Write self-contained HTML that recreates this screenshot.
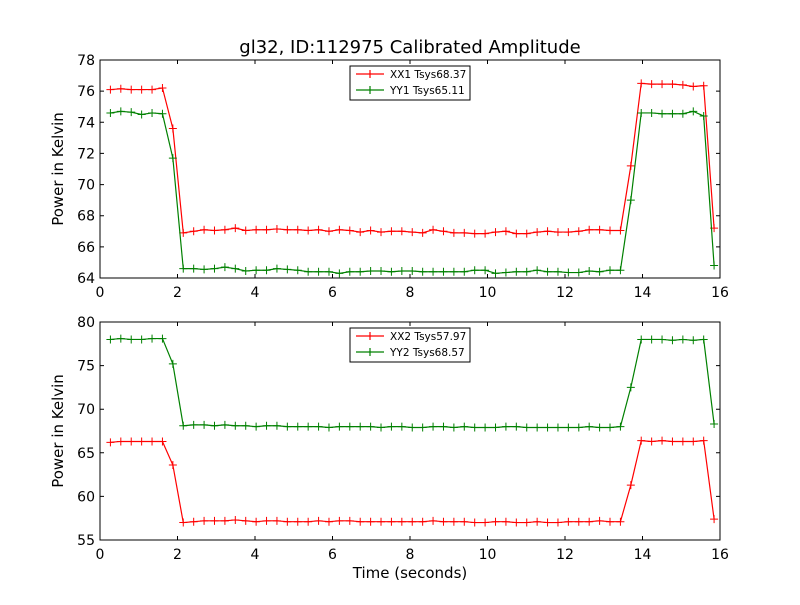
<!DOCTYPE html>
<html><head><meta charset="utf-8"><style>
body{margin:0;background:#fff;font-family:"Liberation Sans","DejaVu Sans",sans-serif}
svg text{font-family:"DejaVu Sans","Liberation Sans",sans-serif}
</style></head><body>
<svg id="c" width="800" height="600" xmlns="http://www.w3.org/2000/svg">
<rect width="800" height="600" fill="#fff"/>
<text x="410" y="53" font-size="18" text-anchor="middle">gl32, ID:112975 Calibrated Amplitude</text>
<text x="410" y="578" font-size="15" text-anchor="middle">Time (seconds)</text>
</svg>
<script>
const xTicks=[0,2,4,6,8,10,12,14,16];
const topTicks=[64,66,68,70,72,74,76,78];
const botTicks=[55,60,65,70,75,80];
const dt=0.2686;
const xx1=[76.1,76.15,76.1,76.1,76.1,76.2,73.6,
66.9,67.0,67.1,67.05,67.1,67.2,67.05,67.1,67.1,67.15,67.1,67.1,67.05,67.1,67.0,67.1,67.05,66.95,67.05,66.95,67.0,67.0,66.95,66.9,67.1,67.0,66.9,66.9,66.85,66.85,66.95,67.0,66.85,66.85,66.95,67.0,66.95,66.95,67.0,67.1,67.1,67.05,67.05,
71.2,76.5,76.45,76.45,76.45,76.4,76.3,76.35,67.2];
const yy1=[74.6,74.7,74.65,74.5,74.6,74.55,71.7,
64.6,64.6,64.55,64.6,64.7,64.6,64.45,64.5,64.5,64.6,64.55,64.5,64.4,64.4,64.4,64.3,64.4,64.4,64.45,64.45,64.4,64.45,64.45,64.4,64.4,64.4,64.4,64.4,64.5,64.5,64.3,64.35,64.4,64.4,64.5,64.4,64.4,64.35,64.35,64.45,64.4,64.5,64.5,
69.0,74.6,74.6,74.55,74.55,74.55,74.7,74.4,64.8];
const xx2=[66.2,66.3,66.3,66.3,66.3,66.3,63.6,
57.0,57.1,57.2,57.2,57.2,57.3,57.2,57.1,57.2,57.2,57.1,57.1,57.1,57.2,57.1,57.2,57.2,57.1,57.1,57.1,57.1,57.1,57.1,57.1,57.2,57.1,57.1,57.1,57.0,57.0,57.1,57.1,57.0,57.0,57.1,57.0,57.0,57.1,57.1,57.1,57.2,57.1,57.1,
61.3,66.4,66.3,66.4,66.3,66.3,66.3,66.4,57.4];
const yy2=[78.0,78.1,78.0,78.0,78.1,78.1,75.2,
68.1,68.2,68.2,68.1,68.2,68.1,68.1,68.0,68.1,68.1,68.0,68.0,68.0,68.0,67.9,68.0,68.0,68.0,68.0,67.9,68.0,68.0,67.9,67.9,68.0,68.0,67.9,68.0,67.9,67.9,67.9,68.0,68.0,67.9,67.9,67.9,67.9,67.9,67.9,68.0,67.9,67.9,68.0,
72.5,78.0,78.0,78.0,77.9,78.0,77.9,78.0,68.3];
const svg=document.getElementById('c');
const NS='http://www.w3.org/2000/svg';
function mk(t,a,p){const e=document.createElementNS(NS,t);for(const k in a)e.setAttribute(k,a[k]);(p||svg).appendChild(e);return e;}
const X0=100,X1=720;
const xs=v=>X0+(v-0)/(16-0)*(X1-X0);
function panel(name,y0,y1,ymin,ymax,yt,series,labels){
  const ys=v=>y1-(v-ymin)/(ymax-ymin)*(y1-y0);
  const g=mk('g',{});
  
  
  series.forEach((s,si)=>{
    const col=si==0?'#ff0000':'#008000';
    const pts=s.map((v,i)=>xs(dt*(i+1))+','+ys(v)).join(' ');
    const pl=mk('polyline',{points:pts,fill:'none',stroke:col,'stroke-width':1.2},g);
    
    
    s.forEach((v,i)=>{const x=xs(dt*(i+1)),y=ys(v);
      mk('path',{d:`M${x-4},${y}H${x+4}M${x},${y-4}V${y+4}`,stroke:col,'stroke-width':1},g);});
  });
  const fr=mk('rect',{x:X0,y:y0,width:X1-X0,height:y1-y0,fill:'none',stroke:'#000','stroke-width':1},g);
  
  
  xTicks.forEach(t=>{const x=xs(t);
    mk('path',{d:`M${x},${y1}v-4M${x},${y0}v4`,stroke:'#000'},g);
    const tx=mk('text',{x:x,y:y1+19,'font-size':14,'text-anchor':'middle'},g);tx.textContent=t;
    
    });
  yt.forEach(t=>{const y=ys(t);
    mk('path',{d:`M${X0},${y}h4M${X1},${y}h-4`,stroke:'#000'},g);
    const tx=mk('text',{x:X0-5,y:y+5,'font-size':14,'text-anchor':'end'},g);tx.textContent=t;
    
    });
  const yl=mk('text',{x:0,y:0,'font-size':15,'text-anchor':'middle',transform:`translate(63,${(y0+y1)/2}) rotate(-90)`},g);
  yl.textContent='Power in Kelvin';
  
  
  const lg=mk('g',{},g);
  
  
  mk('rect',{x:350,y:y0+6,width:120,height:34,fill:'#fff',stroke:'#000'},lg);
  labels.forEach((l,i)=>{const col=i==0?'#ff0000':'#008000';const y=y0+14+i*16;
    mk('path',{d:`M356,${y}h28M370,${y-4}v8`,stroke:col,'stroke-width':1.2},lg);
    const tx=mk('text',{x:390,y:y+4,'font-size':10.5},lg);tx.textContent=l;
    
    });
}
panel('top-panel',60,278,64,78,topTicks,[xx1,yy1],['XX1 Tsys68.37','YY1 Tsys65.11']);
panel('bottom-panel',322,540,55,80,botTicks,[xx2,yy2],['XX2 Tsys57.97','YY2 Tsys68.57']);
</script>
</body></html>
